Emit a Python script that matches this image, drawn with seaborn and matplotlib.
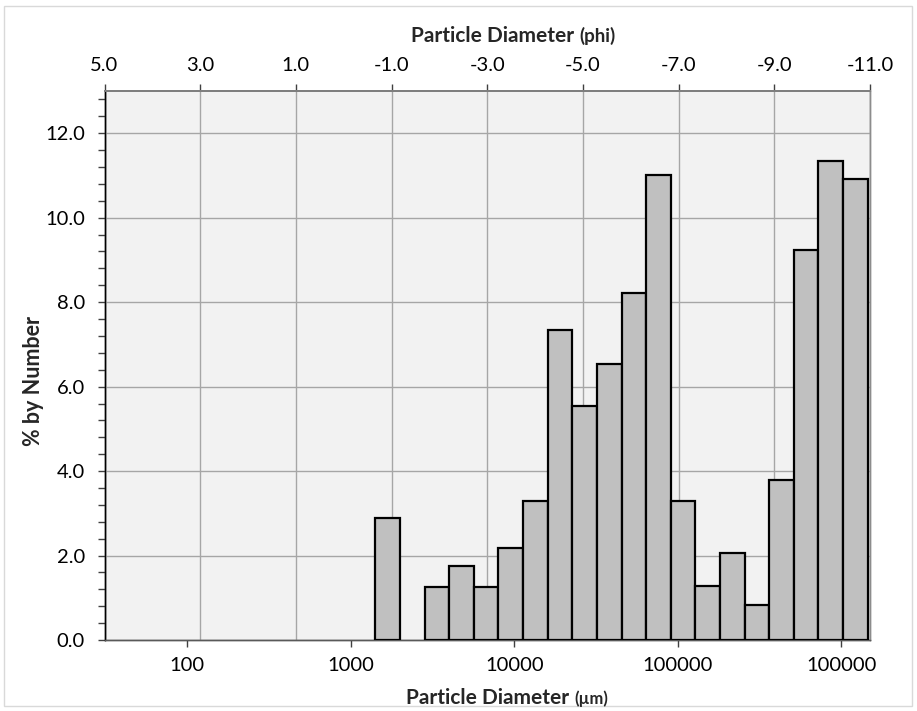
import numpy as np
import pandas as pd
import matplotlib
matplotlib.use("Agg")
import matplotlib.pyplot as plt
from matplotlib.patches import Rectangle
from matplotlib.ticker import (FixedLocator, FixedFormatter, MultipleLocator,
                               NullLocator, FormatStrFormatter)
import seaborn as sns

# Half-phi size classes (micrometres) and % by number in each class
bin_lower_um = [1414.2, 2000.0, 2828.4, 4000.0, 5656.9, 8000.0, 11313.7, 16000.0,
                22627.4, 32000.0, 45254.8, 64000.0, 90509.7, 128000.0, 181019.3,
                256000.0, 362038.7, 512000.0, 724077.3, 1024000.0]
bin_upper_um = [2000.0, 2828.4, 4000.0, 5656.9, 8000.0, 11313.7, 16000.0, 22627.4,
                32000.0, 45254.8, 64000.0, 90509.7, 128000.0, 181019.3, 256000.0,
                362038.7, 512000.0, 724077.3, 1024000.0, 1448154.7]
pct_by_number = [2.88, 0.0, 1.25, 1.75, 1.25, 2.18, 3.28, 7.34, 5.55, 6.53, 8.22,
                 11.01, 3.30, 1.28, 2.06, 0.84, 3.79, 9.24, 11.34, 10.92]

# Axis tick labels
um_ticks = [100, 1000, 10000, 100000, 1000000]
um_tick_labels = ["100", "1000", "10000", "100000", "100000"]
phi_ticks = [5.0, 3.0, 1.0, -1.0, -3.0, -5.0, -7.0, -9.0, -11.0]

sns.set_theme(style="white")
plt.rcParams["font.family"] = ["Lato", "DejaVu Sans"]

W, H = 917, 711
fig = plt.figure(figsize=(W / 100, H / 100), dpi=100)
fig.patch.set_facecolor("white")

left, right, bottom, top = 104.5 / W, 870 / W, 1 - 640 / H, 1 - 91 / H
ax = fig.add_axes([left, bottom, right - left, top - bottom])
ax2 = ax.twiny()

# The phi axis sits behind and carries the background and vertical grid
ax.set_zorder(ax2.get_zorder() + 1)
ax.patch.set_visible(False)
ax2.patch.set_visible(True)
ax2.patch.set_facecolor("#F2F2F2")

df = pd.DataFrame({"lo": bin_lower_um, "hi": bin_upper_um, "pct": pct_by_number})
df["mid"] = np.sqrt(df["lo"] * df["hi"])
edges_log = [float(v) for v in np.log10(bin_lower_um + bin_upper_um[-1:])]

sns.histplot(data=df, x="mid", weights="pct", bins=edges_log, log_scale=True,
             stat="count", element="bars", fill=True, color="#C0C0C0",
             alpha=1.0, edgecolor="black", linewidth=1.6, ax=ax, zorder=3)
# Empty classes draw nothing
for p in ax.patches:
    if p.get_height() == 0:
        p.set_linewidth(0)

TICK_FS = 14.5
TICK_C = "#404040"

# Bottom (micrometre) axis
ax.set_xscale("log")
ax.set_xlim(31.25, 1.496e6)
ax.set_ylim(0, 13.0)
ax.xaxis.set_major_locator(FixedLocator(um_ticks))
ax.xaxis.set_major_formatter(FixedFormatter(um_tick_labels))
ax.xaxis.set_minor_locator(NullLocator())
ax.yaxis.set_major_locator(MultipleLocator(2.0))
ax.yaxis.set_minor_locator(MultipleLocator(0.4))
ax.yaxis.set_major_formatter(FormatStrFormatter("%.1f"))
ax.set_axisbelow(True)
ax.grid(False)
ax.yaxis.grid(True, which="major", color="#A6A6A6", linewidth=1.0, zorder=0)
ax.tick_params(axis="x", which="major", direction="out", length=5, width=1,
               color=TICK_C, labelsize=TICK_FS, pad=7, bottom=True, top=False,
               labelcolor="black")
ax.tick_params(axis="y", which="major", direction="out", length=5, width=1,
               color=TICK_C, labelsize=TICK_FS, pad=9, left=True, labelcolor="black")
ax.tick_params(axis="y", which="minor", direction="out", length=5, width=1,
               color=TICK_C, left=True)
ax.set_xlabel("")
ax.set_ylabel("% by Number", fontsize=15.5, fontweight="bold")
ax.yaxis.set_label_coords((44 - 104.5) / (870 - 104.5), (640 - 381) / (640 - 91))

# Top (phi) axis
ax2.set_xlim(5.0, -11.0)
ax2.xaxis.set_major_locator(FixedLocator(phi_ticks))
ax2.xaxis.set_major_formatter(FormatStrFormatter("%.1f"))
ax2.tick_params(axis="x", which="major", direction="out", length=5, width=1,
                color=TICK_C, labelsize=TICK_FS, pad=7, top=True, labelcolor="black")
ax2.grid(False)
ax2.xaxis.grid(True, which="major", color="#A6A6A6", linewidth=1.0)

for a in (ax, ax2):
    a.spines["left"].set_color("black")
    a.spines["bottom"].set_color("#595959")
    a.spines["top"].set_color("#7F7F7F")
    a.spines["right"].set_color("#8C8C8C")
    a.spines["left"].set_linewidth(1.0)
    a.spines["bottom"].set_linewidth(1.0)
    a.spines["top"].set_linewidth(1.4)
    a.spines["right"].set_linewidth(1.0)

renderer = fig.canvas.get_renderer()


def split_label(x_px, y_px, big, small, small_fs):
    """Bold title made of a large part followed by a smaller parenthetical."""
    yf = 1 - y_px / H
    t1 = fig.text(x_px / W, yf, big, fontsize=15, fontweight="bold",
                  ha="left", va="baseline")
    x_end = t1.get_window_extent(renderer).x1
    fig.text((x_end + 5) / W, yf, small, fontsize=small_fs, fontweight="bold",
             ha="left", va="baseline")


split_label(411, 42, "Particle Diameter", "(phi)", 13.5)
split_label(406, 704, "Particle Diameter", "(µm)", 12)

# Light frame round the whole chart area
fig.add_artist(Rectangle((4 / W, 5 / H), 908 / W, 700 / H,
                         transform=fig.transFigure, fill=False,
                         edgecolor="#D9D9D9", linewidth=1.0))

fig.savefig("out.png", dpi=100, facecolor="white")
